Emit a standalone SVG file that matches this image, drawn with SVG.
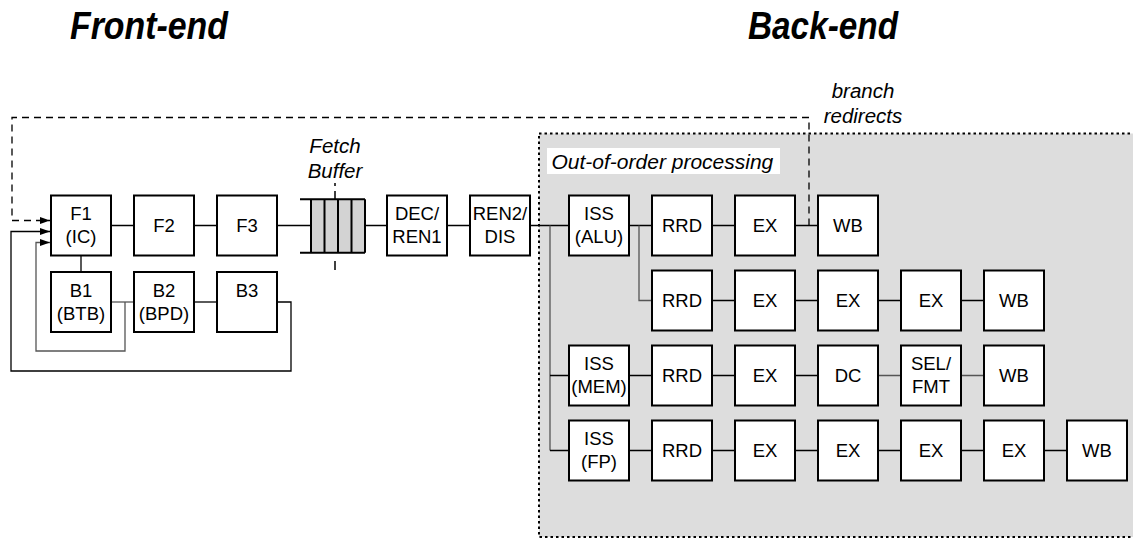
<svg xmlns="http://www.w3.org/2000/svg" width="1133" height="539" viewBox="0 0 1133 539">
<style>
.box{fill:#fff;stroke:#000;stroke-width:2}
.t{font-family:"Liberation Sans",Arial,Helvetica,sans-serif;font-size:18.5px;text-anchor:middle;fill:#000}
.it{font-family:"Liberation Sans",Arial,Helvetica,sans-serif;font-size:20.5px;font-style:italic;fill:#000}
.title{font-family:"Liberation Sans",Arial,Helvetica,sans-serif;font-size:38px;font-style:italic;font-weight:bold;fill:#000}
.c{fill:none;stroke:#000;stroke-width:1.3}
.g{fill:none;stroke:#555;stroke-width:1.3}
.d{fill:none;stroke:#000;stroke-width:1.3;stroke-dasharray:7 5}
</style>
<defs>
<marker id="ah" markerUnits="userSpaceOnUse" markerWidth="10" markerHeight="8" refX="10" refY="3.5" orient="auto">
<path d="M0,0 L10,3.5 L0,7 z" fill="#000"/>
</marker>
</defs>
<rect width="1133" height="539" fill="#fff"/>
<text class="title" x="70" y="39" textLength="158" lengthAdjust="spacingAndGlyphs">Front-end</text>
<text class="title" x="748" y="39" textLength="150" lengthAdjust="spacingAndGlyphs">Back-end</text>
<g id="ooo-region">
<rect x="539" y="133.5" width="600" height="403.5" fill="#dddddd" stroke="#000" stroke-width="2" stroke-dasharray="2.5 3"/>
<rect x="547" y="148" width="233" height="26" fill="#fff"/>
<text class="it" x="551.5" y="169" style="font-size:21px">Out-of-order processing</text>
</g>
<g id="labels">
<text class="it" x="335" y="153" text-anchor="middle">Fetch</text>
<text class="it" x="335" y="178" text-anchor="middle">Buffer</text>
<text class="it" x="863" y="98" text-anchor="middle">branch</text>
<text class="it" x="863" y="123" text-anchor="middle">redirects</text>
</g>
<g id="connectors">
<path class="c" d="M111 225.5H134M194 225.5H217M277 225.5H311M365 225.5H387M447 225.5H470M530 225.5H569"/>
<path class="g" d="M550 225.5V450.5"/>
<path class="c" d="M550 375.5H569M550 450.5H569"/>
<path class="c" d="M629 225.5H652M712 225.5H735M795 225.5H818"/>
<path class="g" d="M639 225.5V300.5H652"/>
<path class="c" d="M712 300.5H735M795 300.5H818M878 300.5H901M961 300.5H984"/>
<path class="c" d="M629 375.5H652M712 375.5H735M795 375.5H818"/>
<path class="g" d="M878 375.5H901M961 375.5H984"/>
<path class="c" d="M629 450.5H652M712 450.5H735M795 450.5H818M878 450.5H901M961 450.5H984M1044 450.5H1067"/>
<path class="c" d="M81 255.5V272"/>
<path class="g" d="M111 302H134"/>
<path class="g" d="M125 302V351H36V242.5H50" marker-end="url(#ah)"/>
<path class="c" d="M194 302H217"/>
<path class="c" d="M277 302H291V371H11V231.5H50" marker-end="url(#ah)"/>
<path class="d" d="M809 225.5V117.5H12V220.5H50" marker-end="url(#ah)"/>
</g>
<g id="fetch-buffer">
<rect x="311" y="199.3" width="54" height="53.4" fill="#d3d3d3"/>
<path fill="none" stroke="#000" stroke-width="2" d="M300 199.3H365M300 252.7H365M311 199.3V252.7M324.5 199.3V252.7M338 199.3V252.7M351.5 199.3V252.7M365 199.3V252.7"/>
<path fill="none" stroke="#000" stroke-width="1.5" d="M335 183V186M335 191V199M335 261V270"/>
</g>
<g id="F1"><rect class="box" x="51" y="195.5" width="60" height="60"/><text class="t" x="81" y="220">F1</text><text class="t" x="81" y="243">(IC)</text></g>
<g id="F2"><rect class="box" x="134" y="195.5" width="60" height="60"/><text class="t" x="164" y="232.2">F2</text></g>
<g id="F3"><rect class="box" x="217" y="195.5" width="60" height="60"/><text class="t" x="247" y="232.2">F3</text></g>
<g id="B1"><rect class="box" x="51" y="272" width="60" height="60"/><text class="t" x="81" y="296.5">B1</text><text class="t" x="81" y="319.5">(BTB)</text></g>
<g id="B2"><rect class="box" x="134" y="272" width="60" height="60"/><text class="t" x="164" y="296.5">B2</text><text class="t" x="164" y="319.5">(BPD)</text></g>
<g id="B3"><rect class="box" x="217" y="272" width="60" height="60"/><text class="t" x="247" y="296.5">B3</text></g>
<g id="DEC"><rect class="box" x="387" y="195.5" width="60" height="60"/><text class="t" x="417" y="220">DEC/</text><text class="t" x="417" y="243">REN1</text></g>
<g id="REN2"><rect class="box" x="470" y="195.5" width="60" height="60"/><text class="t" x="500" y="220">REN2/</text><text class="t" x="500" y="243">DIS</text></g>
<g id="ISS-ALU"><rect class="box" x="569" y="195.5" width="60" height="60"/><text class="t" x="599" y="220">ISS</text><text class="t" x="599" y="243">(ALU)</text></g>
<g id="R1-RRD"><rect class="box" x="652" y="195.5" width="60" height="60"/><text class="t" x="682" y="232.2">RRD</text></g>
<g id="R1-EX"><rect class="box" x="735" y="195.5" width="60" height="60"/><text class="t" x="765" y="232.2">EX</text></g>
<g id="R1-WB"><rect class="box" x="818" y="195.5" width="60" height="60"/><text class="t" x="848" y="232.2">WB</text></g>
<g id="R2-RRD"><rect class="box" x="652" y="270.5" width="60" height="60"/><text class="t" x="682" y="307.2">RRD</text></g>
<g id="R2-EX1"><rect class="box" x="735" y="270.5" width="60" height="60"/><text class="t" x="765" y="307.2">EX</text></g>
<g id="R2-EX2"><rect class="box" x="818" y="270.5" width="60" height="60"/><text class="t" x="848" y="307.2">EX</text></g>
<g id="R2-EX3"><rect class="box" x="901" y="270.5" width="60" height="60"/><text class="t" x="931" y="307.2">EX</text></g>
<g id="R2-WB"><rect class="box" x="984" y="270.5" width="60" height="60"/><text class="t" x="1014" y="307.2">WB</text></g>
<g id="ISS-MEM"><rect class="box" x="569" y="345.5" width="60" height="60"/><text class="t" x="599" y="370">ISS</text><text class="t" x="599" y="393">(MEM)</text></g>
<g id="R3-RRD"><rect class="box" x="652" y="345.5" width="60" height="60"/><text class="t" x="682" y="382.2">RRD</text></g>
<g id="R3-EX"><rect class="box" x="735" y="345.5" width="60" height="60"/><text class="t" x="765" y="382.2">EX</text></g>
<g id="R3-DC"><rect class="box" x="818" y="345.5" width="60" height="60"/><text class="t" x="848" y="382.2">DC</text></g>
<g id="R3-SEL"><rect class="box" x="901" y="345.5" width="60" height="60"/><text class="t" x="931" y="370">SEL/</text><text class="t" x="931" y="393">FMT</text></g>
<g id="R3-WB"><rect class="box" x="984" y="345.5" width="60" height="60"/><text class="t" x="1014" y="382.2">WB</text></g>
<g id="ISS-FP"><rect class="box" x="569" y="420.5" width="60" height="60"/><text class="t" x="599" y="445">ISS</text><text class="t" x="599" y="468">(FP)</text></g>
<g id="R4-RRD"><rect class="box" x="652" y="420.5" width="60" height="60"/><text class="t" x="682" y="457.2">RRD</text></g>
<g id="R4-EX1"><rect class="box" x="735" y="420.5" width="60" height="60"/><text class="t" x="765" y="457.2">EX</text></g>
<g id="R4-EX2"><rect class="box" x="818" y="420.5" width="60" height="60"/><text class="t" x="848" y="457.2">EX</text></g>
<g id="R4-EX3"><rect class="box" x="901" y="420.5" width="60" height="60"/><text class="t" x="931" y="457.2">EX</text></g>
<g id="R4-EX4"><rect class="box" x="984" y="420.5" width="60" height="60"/><text class="t" x="1014" y="457.2">EX</text></g>
<g id="R4-WB"><rect class="box" x="1067" y="420.5" width="60" height="60"/><text class="t" x="1097" y="457.2">WB</text></g>
</svg>
